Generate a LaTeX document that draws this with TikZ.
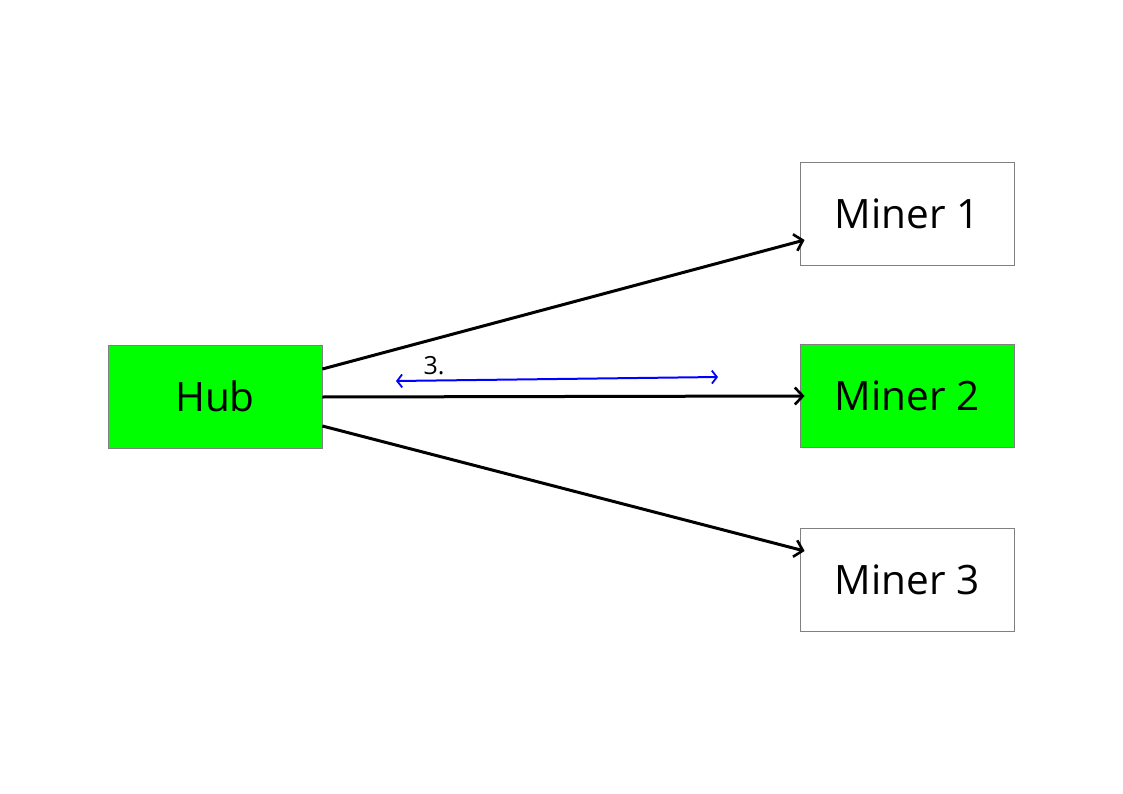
\documentclass[tikz,border=0pt]{standalone}
\usepackage{fontspec}
\setmainfont{Open Sans}
\usetikzlibrary{arrows.meta,calc}
\definecolor{boxgreen}{RGB}{0,255,0}
\definecolor{boxedge}{RGB}{128,128,128}
\begin{document}
\begin{tikzpicture}[x=1pt,y=-1pt,
  minerbox/.style={draw=boxedge,line width=0.8pt,minimum width=214pt,minimum height=103pt,inner sep=0pt,
    font=\fontsize{40.5}{48}\selectfont},
  greenbox/.style={minerbox,fill=boxgreen},
  whitebox/.style={minerbox,fill=white},
  link/.style={line width=3pt,black,-{Straight Barb[length=8pt,width=17pt,line width=2.6pt]}},
  bluelink/.style={line width=2pt,blue,{Straight Barb[length=5pt,width=13pt,line width=1.8pt]}-{Straight Barb[length=5pt,width=13pt,line width=1.8pt]}}]
\useasboundingbox (0,0) rectangle (1123,794);
\node[greenbox] (hub) at (215,396.5) {Hub};
\node[whitebox] (m1) at (907,213.5) {Miner 1};
\node[greenbox] (m2) at (907,395.5) {Miner 2};
\node[whitebox] (m3) at (907,579.5) {Miner 3};
\draw[link] ($(hub.east)+(0,-27.5)$) -- ($(m1.west)+(5,26.5)$);
\draw[link] ($(hub.east)+(0,0.5)$) -- ($(m2.west)+(5,0.5)$);
\draw[link] ($(hub.east)+(0,29.5)$) -- ($(m3.west)+(5,-28.5)$);
\coordinate (b1) at (396,381);
\coordinate (b2) at (718,377);
\draw[bluelink] (b1) -- (b2);
\node[font=\fontsize{25}{30}\selectfont,inner sep=0pt] (lbl) at (434,366) {3.};
\end{tikzpicture}
\end{document}
